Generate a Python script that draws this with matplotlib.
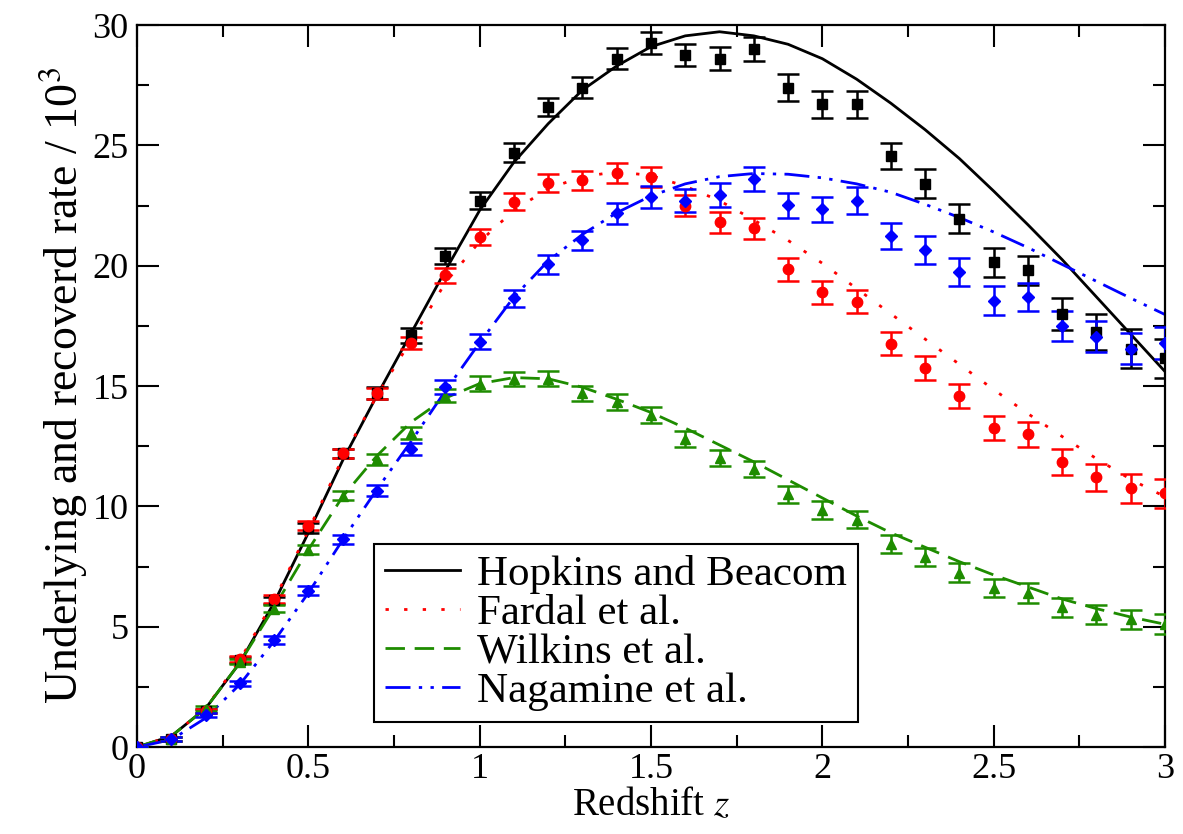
#!/usr/bin/env python3
"""
Underlying vs recovered rate against redshift, four star formation histories
"""

import numpy as np
import matplotlib
matplotlib.use('Agg')
import matplotlib.pyplot as plt
from matplotlib.ticker import MultipleLocator

# redshift grid of the recovered points and the underlying curves
z = np.round(np.arange(0, 3.01, 0.1), 1)

# underlying rates (curves), / 10^3
hb_curve = [0.0, 0.45, 1.6, 3.5, 6.0, 8.9, 11.9, 14.6, 17.2, 19.8, 22.3,
            24.3, 25.9, 27.3, 28.3, 29.1, 29.55, 29.72, 29.55, 29.2, 28.6,
            27.75, 26.75, 25.65, 24.45, 23.1, 21.7, 20.25, 18.7, 17.15, 15.6]
fardal_curve = [0.0, 0.45, 1.6, 3.6, 6.1, 9.0, 12.0, 14.6, 16.9, 19.3, 21.0,
                22.3, 23.2, 23.7, 23.9, 23.75, 23.3, 22.7, 21.9, 21.05, 20.1,
                19.05, 18.0, 16.95, 15.9, 14.85, 13.85, 12.9, 11.98, 11.12, 10.4]
wilkins_curve = [0.0, 0.45, 1.6, 3.5, 5.8, 8.2, 10.4, 12.1, 13.5, 14.5, 15.1,
                 15.35, 15.3, 14.95, 14.45, 13.9, 13.25, 12.55, 11.85, 11.1, 10.35,
                 9.6, 8.9, 8.3, 7.7, 7.15, 6.65, 6.15, 5.75, 5.4, 5.1]
nagamine_curve = [0.0, 0.3, 1.2, 2.6, 4.4, 6.4, 8.6, 10.7, 12.7, 14.8, 16.8,
                  18.7, 20.2, 21.3, 22.2, 22.9, 23.4, 23.7, 23.83, 23.8, 23.65,
                  23.4, 23.05, 22.55, 22.0, 21.4, 20.75, 20.05, 19.35, 18.65, 17.97]

# recovered rates (points) and their errors
hb_pts = [0.0, 0.35, 1.5, 3.6, 6.1, 9.1, 12.2, 14.7, 17.1, 20.4, 22.7,
          24.7, 26.6, 27.4, 28.6, 29.25, 28.75, 28.6, 29.0, 27.4, 26.7,
          26.7, 24.55, 23.4, 21.95, 20.15, 19.8, 18.0, 17.25, 16.55, 16.15]
hb_err = [0.05, 0.08, 0.1, 0.12, 0.15, 0.2, 0.2, 0.25, 0.3, 0.33, 0.35,
          0.38, 0.38, 0.42, 0.44, 0.45, 0.45, 0.47, 0.5, 0.55, 0.55,
          0.55, 0.55, 0.6, 0.6, 0.6, 0.62, 0.67, 0.74, 0.8, 0.8]
fardal_pts = [0.0, 0.35, 1.5, 3.65, 6.15, 9.2, 12.2, 14.7, 16.8, 19.6, 21.2,
              22.65, 23.45, 23.55, 23.85, 23.7, 22.5, 21.8, 21.55, 19.85, 18.9,
              18.5, 16.75, 15.75, 14.6, 13.25, 13.0, 11.85, 11.2, 10.75, 10.55]
fardal_err = [0.05, 0.08, 0.1, 0.12, 0.15, 0.18, 0.2, 0.23, 0.25, 0.3, 0.32,
              0.35, 0.38, 0.4, 0.42, 0.42, 0.44, 0.45, 0.45, 0.47, 0.48,
              0.48, 0.48, 0.5, 0.5, 0.5, 0.52, 0.55, 0.58, 0.6, 0.6]
wilkins_pts = [0.0, 0.35, 1.6, 3.55, 5.75, 8.2, 10.45, 11.95, 13.05, 14.6, 15.1,
               15.3, 15.3, 14.7, 14.35, 13.8, 12.8, 12.0, 11.55, 10.5, 9.85,
               9.45, 8.45, 7.9, 7.25, 6.6, 6.4, 5.8, 5.5, 5.3, 5.1]
wilkins_err = [0.05, 0.08, 0.1, 0.12, 0.15, 0.18, 0.2, 0.22, 0.25, 0.28, 0.3,
               0.3, 0.32, 0.32, 0.33, 0.33, 0.33, 0.34, 0.35, 0.35, 0.36,
               0.37, 0.38, 0.38, 0.38, 0.38, 0.4, 0.4, 0.4, 0.41, 0.41]
nagamine_pts = [0.0, 0.35, 1.33, 2.64, 4.45, 6.5, 8.63, 10.65, 12.4, 14.97, 16.84,
                18.64, 20.05, 21.05, 22.17, 22.86, 22.7, 22.93, 23.6, 22.52, 22.34,
                22.7, 21.23, 20.65, 19.75, 18.55, 18.7, 17.5, 17.05, 16.55, 16.8]
nagamine_err = [0.05, 0.08, 0.1, 0.12, 0.15, 0.18, 0.2, 0.22, 0.25, 0.3, 0.32,
                0.35, 0.38, 0.4, 0.42, 0.45, 0.47, 0.5, 0.5, 0.52, 0.52,
                0.55, 0.55, 0.57, 0.58, 0.6, 0.6, 0.62, 0.64, 0.65, 0.66]

series = [
    ('Hopkins and Beacom', hb_curve, hb_pts, hb_err, 'black', 's', 7.5, '-'),
    ('Fardal et al.', fardal_curve, fardal_pts, fardal_err, '#ff0000', 'o', 7.5, (0, (1.2, 5.5))),
    ('Wilkins et al.', wilkins_curve, wilkins_pts, wilkins_err, '#1e8c00', '^', 7.5, (0, (7.0, 3.5))),
    ('Nagamine et al.', nagamine_curve, nagamine_pts, nagamine_err, '#0000ff', 'D', 6.0,
     (0, (9.0, 3.0, 1.2, 3.0, 1.2, 3.0))),
]

plt.rcParams['font.family'] = ['Liberation Serif', 'DejaVu Serif']
plt.rcParams['mathtext.fontset'] = 'stix'

fig = plt.figure(figsize=(11.83, 8.34), dpi=100)
ax = fig.add_axes([0.1158, 0.1043, 0.8690, 0.8657])

for label, curve, pts, err, color, marker, ms, ls in series:
    ax.plot(z, curve, color=color, linestyle=ls, linewidth=2.0, label=label, zorder=2)
    ax.errorbar(z, pts, yerr=err, fmt=marker, color=color, markersize=ms,
                elinewidth=1.8, capsize=8, capthick=1.8, zorder=3)

ax.set_xlim(0, 3)
ax.set_ylim(0, 30)
ax.xaxis.set_major_locator(MultipleLocator(0.5))
ax.xaxis.set_minor_locator(MultipleLocator(0.25))
ax.yaxis.set_major_locator(MultipleLocator(5))
ax.yaxis.set_minor_locator(MultipleLocator(2.5))
ax.set_xticks([0, 0.5, 1, 1.5, 2, 2.5, 3])
ax.set_xticklabels(['0', '0.5', '1', '1.5', '2', '2.5', '3'])

ax.tick_params(which='both', direction='in', top=True, right=True, width=1.5,
               labelsize=26)
ax.tick_params(axis='x', pad=4)
ax.tick_params(axis='y', pad=6)
ax.tick_params(which='major', length=16)
ax.tick_params(which='minor', length=8.5)
for sp in ax.spines.values():
    sp.set_linewidth(1.6)

ax.set_xlabel('Redshift $z$', fontsize=28, labelpad=1)
ax.set_ylabel('Underlying and recoverd rate / 10$^3$', fontsize=33, labelpad=2)

leg = ax.legend(loc='lower left', bbox_to_anchor=(0.2305, 0.0346), borderaxespad=0,
                fontsize=31, handlelength=1.75, handletextpad=0.4, labelspacing=0.0,
                borderpad=0.25, fancybox=False, framealpha=1, edgecolor='black')
leg.get_frame().set_linewidth(1.5)

plt.savefig('out.png', dpi=100)
